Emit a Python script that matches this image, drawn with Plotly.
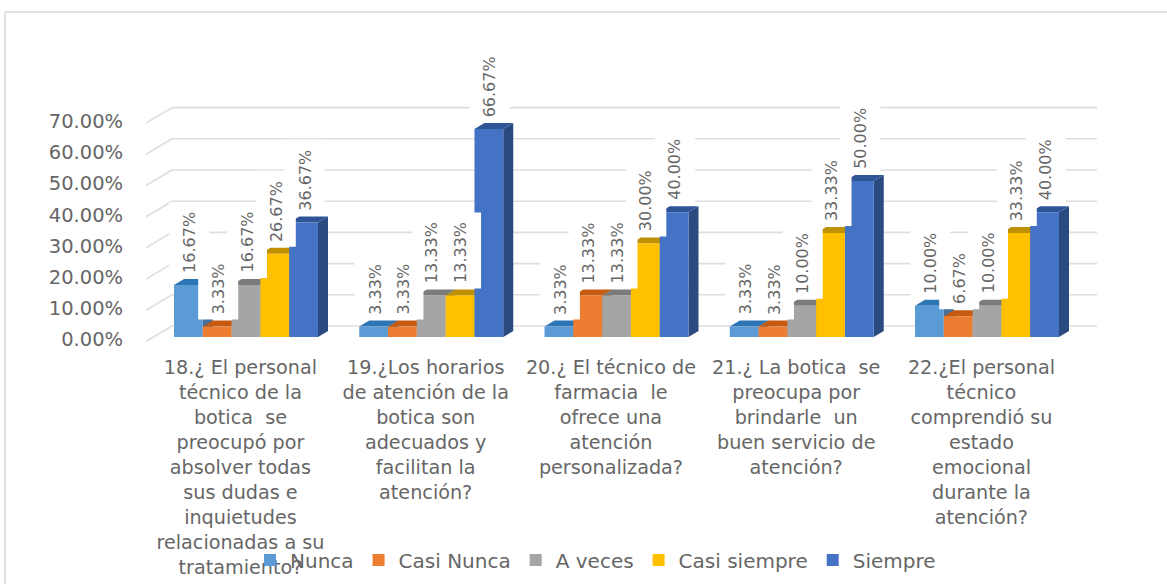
import plotly.graph_objects as go

categories = [
    ["18.¿ El personal", "técnico de la", "botica  se", "preocupó por", "absolver todas", "sus dudas e", "inquietudes", "relacionadas a su", "tratamiento?"],
    ["19.¿Los horarios", "de atención de la", "botica son", "adecuados y", "facilitan la", "atención?"],
    ["20.¿ El técnico de", "farmacia  le", "ofrece una", "atención", "personalizada?"],
    ["21.¿ La botica  se", "preocupa por", "brindarle  un", "buen servicio de", "atención?"],
    ["22.¿El personal", "técnico", "comprendió su", "estado", "emocional", "durante la", "atención?"],
]
nunca = [16.67, 3.33, 3.33, 3.33, 10.00]
casi_nunca = [3.33, 3.33, 13.33, 3.33, 6.67]
a_veces = [16.67, 13.33, 13.33, 10.00, 10.00]
casi_siempre = [26.67, 13.33, 30.00, 33.33, 33.33]
siempre = [36.67, 66.67, 40.00, 50.00, 40.00]
y_ticks = [0, 10, 20, 30, 40, 50, 60, 70]
series_names = ["Nunca", "Casi Nunca", "A veces", "Casi siempre", "Siempre"]
series_values = [nunca, casi_nunca, a_veces, casi_siempre, siempre]
colors = ["#5B9BD5", "#ED7D31", "#A5A5A5", "#FFC000", "#4472C4"]
dark_top = ["#2E75B6", "#C55A11", "#7B7B7B", "#BF9000", "#2F5597"]
dark_side = ["#41719C", "#AE5A21", "#787878", "#BC8C00", "#2A4A80"]

W, H = 1167, 584
L, R, T, B = 146, 1100, 40, 345
X0, XSTEP = 246.0, 185.25      # pixel of first group centre / group spacing
Y0, YSCALE = 337.0, 3.12       # pixel of value 0 at bar front / px per percent
GROUP_W = 144.0
BAR_W = GROUP_W / 5

def dx(px):
    return px / XSTEP

def dy(px):
    return px / YSCALE

x_range = [(L - X0) / XSTEP, (R - X0) / XSTEP]
y_range = [(Y0 - B) / YSCALE, (Y0 - T) / YSCALE]
GRID = "#DEDEDE"
TXT = "#666666"
shapes = []

# back wall grid with floor-side diagonals
for v in y_ticks:
    back = v + dy(11)
    front = v - dy(4.5)
    shapes.append(dict(type="line", layer="below", xref="x", yref="y", x0=dx(172 - X0), x1=dx(1097 - X0), y0=back, y1=back,
                       line=dict(color=GRID, width=1.6)))
    shapes.append(dict(type="line", layer="below", xref="x", yref="y", x0=dx(146 - X0), x1=dx(172 - X0), y0=front, y1=back,
                       line=dict(color=GRID, width=1.6)))

# 3D side and top faces of the bars, derived from the values
DEPTH_X, DEPTH_Y = 10, 6
annotations = []
boxes = []
for g in range(len(categories)):
    for s, vals in enumerate(series_values):
        v = vals[g]
        left = g + dx(-GROUP_W / 2 + s * BAR_W)
        right = left + dx(BAR_W)
        ddx, ddy = dx(DEPTH_X), dy(DEPTH_Y)
        shapes.append(dict(type="path", layer="below", xref="x", yref="y", line=dict(width=0), fillcolor=dark_side[s],
                           path=f"M{right},{0} L{right + ddx},{ddy} L{right + ddx},{v + ddy} L{right},{v} Z"))
        shapes.append(dict(type="path", layer="below", xref="x", yref="y", line=dict(width=0), fillcolor=dark_top[s],
                           path=f"M{left},{v} L{left + ddx},{v + ddy} L{right + ddx},{v + ddy} L{right},{v} Z"))
        cx = (left + right) / 2 + dx(1)
        # white label plate, drawn over the bars but under the label texts
        boxes.append(dict(type="rect", layer="above", xref="x", yref="y", line=dict(width=0), fillcolor="#FFFFFF",
                          x0=cx - dx(20), x1=cx + dx(20), y0=v + dy(7), y1=v + dy(83)))
        annotations.append(dict(
            xref="x", yref="y", x=cx, y=v + dy(12),
            text=f"{v:.2f}%", textangle=-90, showarrow=False,
            xanchor="center", yanchor="bottom", borderpad=0, borderwidth=0,
            font=dict(family="DejaVu Sans", size=16, color=TXT),
        ))
shapes += boxes

# outer chart frame
for xa, ya, xb, yb in [(5, 12, 1167, 12), (5, 12, 5, 584)]:
    shapes.append(dict(type="line", layer="below", xref="paper", yref="paper",
                       x0=(xa - L) / (R - L), x1=(xb - L) / (R - L),
                       y0=(B - ya) / (B - T), y1=(B - yb) / (B - T),
                       line=dict(color="#D9D9D9", width=1.5)))

fig = go.Figure()
xs = list(range(len(categories)))
for name, vals, col in zip(series_names, series_values, colors):
    fig.add_trace(go.Bar(name=name, x=xs, y=vals, marker=dict(color=col, line=dict(width=0))))

ticktext = ["<br>".join(lines) for lines in categories]

fig.update_layout(
    template="none",
    width=W, height=H,
    paper_bgcolor="#FFFFFF", plot_bgcolor="rgba(0,0,0,0)",
    barmode="group", bargap=1 - GROUP_W / XSTEP, bargroupgap=0,
    margin=dict(l=L, r=W - R, t=T, b=H - B, autoexpand=False),
    showlegend=True,
    legend=dict(orientation="h", x=(250 - L) / (R - L), y=(B - 560) / (B - T), xanchor="left", yanchor="middle",
                font=dict(family="DejaVu Sans", size=20, color=TXT), bgcolor="rgba(0,0,0,0)", traceorder="normal"),
    xaxis=dict(range=x_range, tickmode="array", tickvals=[i - 0.03 for i in xs], ticktext=ticktext,
               tickfont=dict(family="DejaVu Sans", size=19.2, color=TXT), showgrid=False, zeroline=False, showline=False,
               ticks="outside", ticklen=5, tickcolor="rgba(0,0,0,0)", tickangle=0, automargin=False),
    yaxis=dict(range=y_range, tickmode="array", tickvals=[v - dy(2.5) for v in y_ticks], ticktext=[f"{v:.2f}%" for v in y_ticks],
               tickfont=dict(family="DejaVu Sans", size=19.5, color=TXT), showgrid=False, zeroline=False, showline=False,
               ticks="outside", ticklen=18, tickcolor="rgba(0,0,0,0)", automargin=False),
    shapes=shapes,
    annotations=annotations,
)
fig.write_html("out.html", config={"displayModeBar": False},
               post_script="document.body.style.margin='0';document.documentElement.style.overflow='hidden';")
